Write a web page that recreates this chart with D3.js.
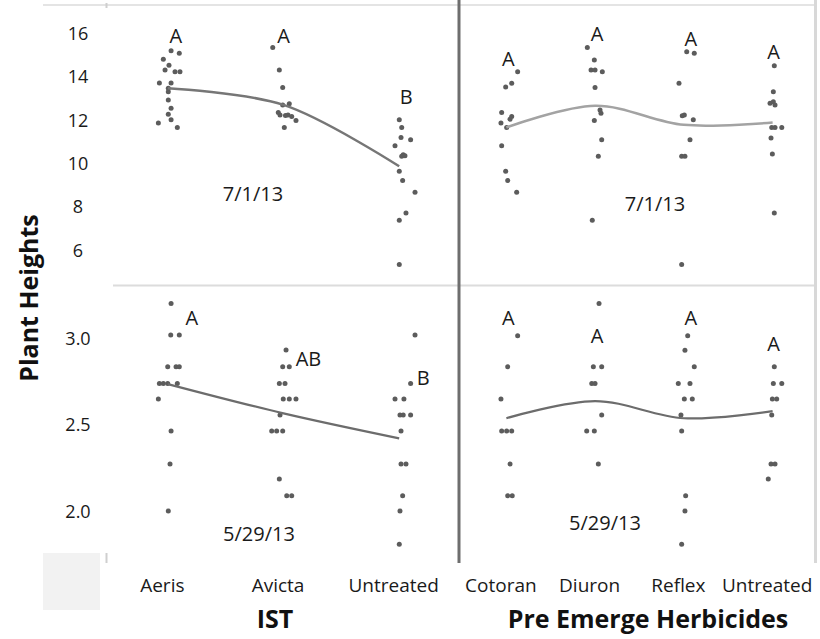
<!DOCTYPE html>
<html>
<head>
<meta charset="utf-8">
<script src="https://cdn.jsdelivr.net/npm/d3@7"></script>
<style>
  html, body { margin: 0; padding: 0; background: #fff; }
  svg { display: block; font-family: "Open Sans", "DejaVu Sans", sans-serif; }
</style>
</head>
<body>
<svg id="chart" width="820" height="639"></svg>
<script>
// ---------- DATA ----------
const istCategories = ["Aeris", "Avicta", "Untreated"];
const preCategories = ["Cotoran", "Diuron", "Reflex", "Untreated"];
const groupTitles = ["IST", "Pre Emerge Herbicides"];
const yTitle = "Plant Heights";
const dateTop = "7/1/13";
const dateBottom = "5/29/13";

const topTicks = [6, 8, 10, 12, 14, 16];
const bottomTicks = [2.0, 2.5, 3.0];

// points: [height, horizontal jitter as fraction of category step]
const jul_Aeris = [[15.20,.028],[15.09,.099],[14.81,-.039],[14.54,.010],[14.32,-.024],[14.24,.062],[14.24,.105],[13.72,-.073],[13.72,.028],[13.48,.004],[13.32,.004],[12.94,.004],[12.56,.028],[12.28,.004],[12.02,.028],[11.87,-.082],[11.67,.082]];
const jul_Avicta = [[15.35,-.093],[14.32,-.036],[13.51,-.007],[12.71,-.007],[12.76,.050],[12.36,-.045],[12.25,-.030],[12.25,.039],[12.22,.017],[12.17,.071],[11.99,.108],[11.67,.007]];
const jul_UntreatedIST = [[12.02,.001],[11.67,.022],[11.21,.016],[11.10,.099],[10.83,-.036],[10.41,.035],[10.34,.022],[10.37,.050],[9.65,.001],[9.23,.030],[8.68,.137],[7.73,.059],[7.39,.001],[5.36,.001]];
const jul_Cotoran = [[14.24,.127],[13.71,.060],[13.53,-.008],[12.36,-.053],[12.17,.060],[12.05,.041],[11.87,-.061],[11.67,.003],[10.83,-.053],[9.65,-.008],[9.23,.015],[8.68,.116]];
const jul_Diuron = [[15.35,-.088],[14.78,-.009],[14.32,-.046],[14.32,-.001],[14.24,.081],[13.51,-.001],[12.48,.055],[12.33,.066],[11.99,-.009],[11.10,.074],[10.34,.036],[7.39,-.032]];
const jul_Reflex = [[15.16,.032],[15.09,.117],[13.71,-.055],[12.25,.005],[12.21,-.018],[12.02,.106],[11.10,.069],[10.34,-.025],[10.34,.012],[5.36,-.025]];
const jul_UntreatedPre = [[14.51,.019],[13.32,.008],[12.79,-.029],[12.86,.008],[12.71,.027],[11.67,-.010],[11.67,.027],[11.67,.103],[11.18,-.018],[10.45,-.003],[7.73,.019]];

const may_Aeris = [[3.20,.028],[3.019,.025],[3.019,.099],[2.836,-.001],[2.836,.071],[2.836,.099],[2.74,-.073],[2.74,-.039],[2.74,-.001],[2.74,.082],[2.65,-.082],[2.465,.028],[2.275,.019],[2.004,.004]];
const may_Avicta = [[2.933,.022],[2.836,-.007],[2.836,.050],[2.74,-.036],[2.74,.013],[2.65,-.002],[2.65,.050],[2.65,.108],[2.558,-.030],[2.465,-.102],[2.465,-.059],[2.465,-.007],[2.188,-.036],[2.092,.028],[2.092,.071]];
const may_UntreatedIST = [[3.019,.137],[2.74,.099],[2.65,-.036],[2.65,.041],[2.558,.007],[2.558,.035],[2.558,.099],[2.465,.016],[2.275,.016],[2.275,.059],[2.092,.030],[2.004,.007],[1.812,.001]];
const may_Cotoran = [[3.015,.127],[2.836,.015],[2.65,-.061],[2.465,-.053],[2.465,.003],[2.465,.060],[2.275,.041],[2.092,.015],[2.092,.066]];
const may_Diuron = [[3.20,.044],[2.836,-.020],[2.836,.074],[2.74,-.038],[2.74,-.001],[2.558,.074],[2.465,-.095],[2.465,-.009],[2.275,.036]];
const may_Reflex = [[3.015,.043],[2.931,.012],[2.836,.117],[2.74,-.063],[2.74,.069],[2.65,.005],[2.65,.095],[2.558,-.033],[2.465,-.025],[2.092,.020],[2.004,.012],[1.812,-.025]];
const may_UntreatedPre = [[2.836,.019],[2.74,.008],[2.74,.103],[2.65,-.003],[2.65,.046],[2.558,-.010],[2.275,-.018],[2.275,.027],[2.188,-.049]];

// trend line (group means)
const julTrendIST = [13.48, 12.71, 9.88];
const julTrendPre = [11.67, 12.67, 11.79, 11.90];
const mayTrendIST = [2.736, 2.567, 2.423];
const mayTrendPre = [2.539, 2.638, 2.539, 2.580];

// significance letters: [letter, height position]
const julLettersIST = [["A", 15.93], ["A", 15.93], ["B", 13.08]];
const julLettersPre = [["A", 14.86], ["A", 16.0], ["A", 15.78], ["A", 15.16]];
const mayLettersIST = [["A", 3.121], ["AB", 2.881], ["B", 2.775]];
const mayLettersPre = [["A", 3.121], ["A", 3.015], ["A", 3.121], ["A", 2.971]];

// ---------- LAYOUT ----------
const svg = d3.select("#chart");
const xLeft = d3.scalePoint().domain(istCategories).range([110, 457]).padding(0.5);
const xRight = d3.scalePoint().domain(preCategories).range([462, 817]).padding(0.5);
const yTop = d3.scaleLinear().domain([6, 16]).range([250.5, 33.5]);
const yBot = d3.scaleLinear().domain([2, 3]).range([511.7, 338.3]);

// frame lines
const g0 = svg.append("g");
g0.append("rect").attr("x", 43).attr("y", 553).attr("width", 57).attr("height", 57).attr("fill", "#f2f2f2");
g0.append("line").attr("x1", 43).attr("x2", 815).attr("y1", 5).attr("y2", 5).attr("stroke", "#e4e4e4").attr("stroke-width", 2);
g0.append("line").attr("x1", 113).attr("x2", 815).attr("y1", 285.5).attr("y2", 285.5).attr("stroke", "#dcdcdc").attr("stroke-width", 2);
g0.append("line").attr("x1", 815.5).attr("x2", 815.5).attr("y1", 0).attr("y2", 563).attr("stroke", "#d8d8d8").attr("stroke-width", 3);
g0.append("line").attr("x1", 106.5).attr("x2", 106.5).attr("y1", 3).attr("y2", 8).attr("stroke", "#cfcfcf").attr("stroke-width", 2);
g0.append("line").attr("x1", 106.5).attr("x2", 106.5).attr("y1", 553).attr("y2", 563).attr("stroke", "#cfcfcf").attr("stroke-width", 2);
g0.append("line").attr("x1", 459).attr("x2", 459).attr("y1", 0).attr("y2", 563).attr("stroke", "#6e6e6e").attr("stroke-width", 3);

// y axes
function yAxis(scale, ticks, fmt) {
  const g = svg.append("g").attr("transform", "translate(78,0)")
    .call(d3.axisLeft(scale).tickValues(ticks).tickFormat(fmt).tickSize(0).tickPadding(0));
  g.select(".domain").remove();
  g.selectAll("text").attr("text-anchor", "middle").attr("x", 0)
    .attr("font-size", 18).attr("fill", "#1a1a1a").attr("font-family", "Open Sans");
}
yAxis(yTop, topTicks, d3.format("d"));
yAxis(yBot, bottomTicks, d3.format(".1f"));

// x axes (category labels)
function xAxis(scale) {
  const g = svg.append("g").attr("transform", "translate(-6,578)")
    .call(d3.axisBottom(scale).tickSize(0).tickPadding(0));
  g.select(".domain").remove();
  g.selectAll("text").attr("font-size", 19).attr("fill", "#1a1a1a")
    .attr("font-family", "Open Sans").attr("dy", "0.71em");
}
xAxis(xLeft);
xAxis(xRight);

// titles
svg.append("text").attr("x", 275).attr("y", 618).attr("text-anchor", "middle")
  .attr("dominant-baseline", "central").attr("font-weight", "bold").attr("font-size", 25)
  .attr("fill", "#111").text(groupTitles[0]);
svg.append("text").attr("x", 648).attr("y", 618).attr("text-anchor", "middle")
  .attr("dominant-baseline", "central").attr("font-weight", "bold").attr("font-size", 25)
  .attr("fill", "#111").text(groupTitles[1]);
svg.append("text").attr("transform", "translate(28,298) rotate(-90)").attr("text-anchor", "middle")
  .attr("dominant-baseline", "central").attr("font-weight", "bold").attr("font-size", 25)
  .attr("fill", "#111").text(yTitle);

// panels
function panel(x, y, cats, series, trend, lineColor, lineWidth) {
  const step = x.step();
  const g = svg.append("g");
  cats.forEach((c, i) => {
    g.selectAll(null).data(series[i]).enter().append("circle")
      .attr("cx", d => x(c) + d[1] * step)
      .attr("cy", d => y(d[0]))
      .attr("r", 2.5)
      .attr("fill", "#5c5c5c");
  });
  const line = d3.line().x((d, i) => x(cats[i])).y(d => y(d)).curve(d3.curveCatmullRom.alpha(0.5));
  g.append("path").datum(trend).attr("d", line).attr("fill", "none")
    .attr("stroke", lineColor).attr("stroke-width", lineWidth);
  return g;
}
function letterMarks(x, y, cats, letters, offsets) {
  cats.forEach((c, i) => {
    svg.append("text").attr("x", x(c) + offsets[i]).attr("y", y(letters[i][1]))
      .attr("text-anchor", "middle").attr("dominant-baseline", "central")
      .attr("font-size", 20).attr("fill", "#1a1a1a").text(letters[i][0]);
  });
}

panel(xLeft, yTop, istCategories, [jul_Aeris, jul_Avicta, jul_UntreatedIST], julTrendIST, "#767676", 2.5);
panel(xRight, yTop, preCategories, [jul_Cotoran, jul_Diuron, jul_Reflex, jul_UntreatedPre], julTrendPre, "#a3a3a3", 2.5);
panel(xLeft, yBot, istCategories, [may_Aeris, may_Avicta, may_UntreatedIST], mayTrendIST, "#6c6c6c", 2.2);
panel(xRight, yBot, preCategories, [may_Cotoran, may_Diuron, may_Reflex, may_UntreatedPre], mayTrendPre, "#6c6c6c", 2.2);

letterMarks(xLeft, yTop, istCategories, julLettersIST, [8, 0, 7]);
letterMarks(xRight, yTop, preCategories, julLettersPre, [2, 2, 7, 1]);
letterMarks(xLeft, yBot, istCategories, mayLettersIST, [24, 25, 24]);
letterMarks(xRight, yBot, preCategories, mayLettersPre, [2, 2, 7, 1]);

// date labels
const dates = [[253, 193, dateTop], [655, 203, dateTop], [259, 533, dateBottom], [605, 522, dateBottom]];
dates.forEach(d => {
  svg.append("text").attr("x", d[0]).attr("y", d[1]).attr("text-anchor", "middle")
    .attr("dominant-baseline", "central").attr("font-size", 20).attr("fill", "#1a1a1a").text(d[2]);
});
</script>
</body>
</html>
